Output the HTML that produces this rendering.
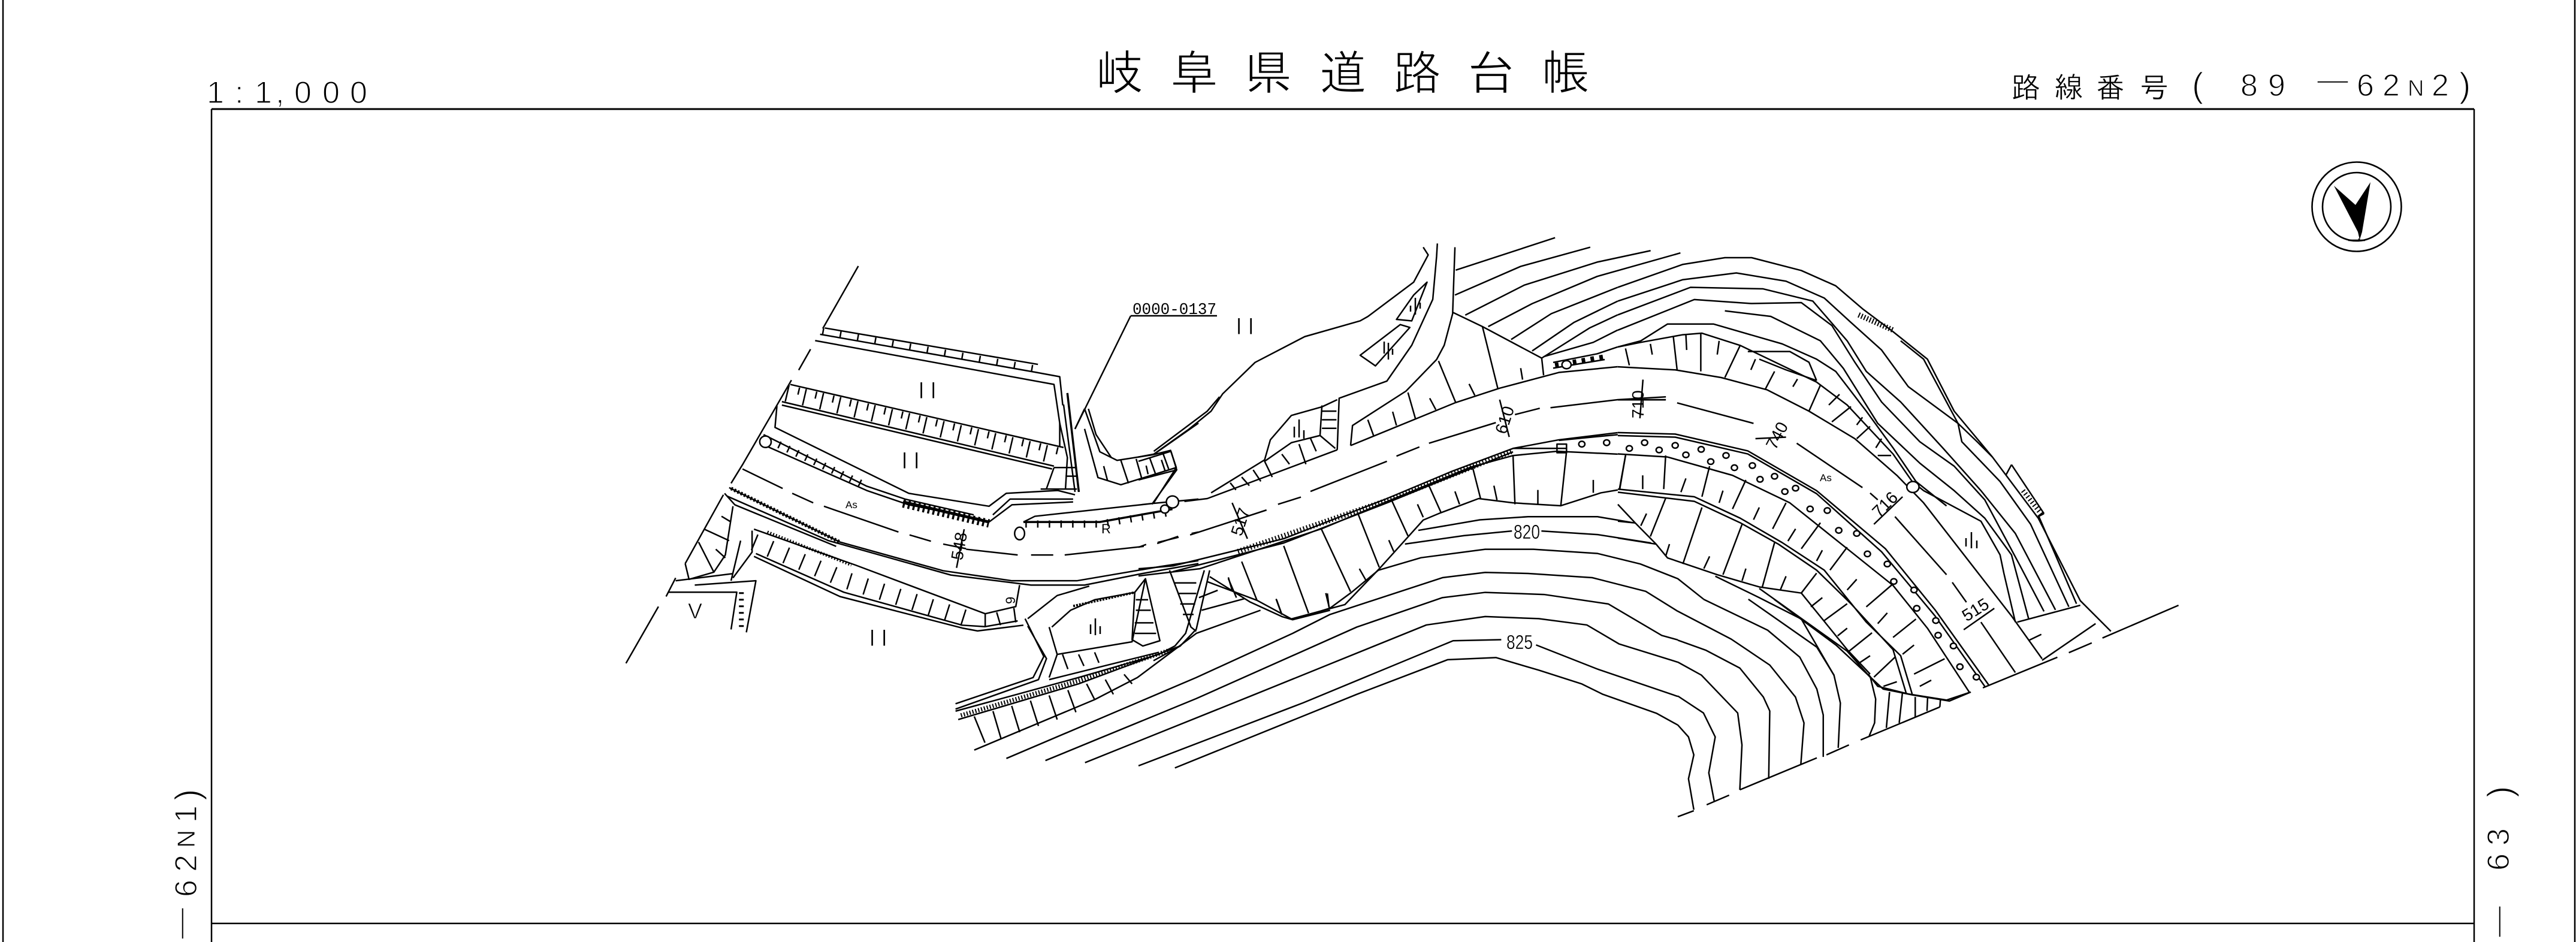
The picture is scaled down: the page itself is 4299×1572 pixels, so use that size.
<!DOCTYPE html>
<html><head><meta charset="utf-8"><title>岐阜県道路台帳</title>
<style>
html,body{margin:0;padding:0;background:#fff;width:4299px;height:1572px;overflow:hidden}
svg{display:block}
path{fill:none;stroke:#000;stroke-width:2.5;vector-effect:non-scaling-stroke;stroke-linejoin:round}
ellipse{fill:#fff;stroke:#000;stroke-width:2.5;vector-effect:non-scaling-stroke}
text{font-family:"Liberation Sans","IPAGothic","Noto Sans CJK JP",sans-serif;fill:#000;stroke:#fff}
.big{font-size:80px;stroke-width:1.4}
.mid{font-size:48px;stroke-width:.5}
.num{font-size:52px;stroke-width:1.4}
.sm{font-size:28px;stroke-width:0}
.xs{font-size:17px;stroke-width:0}
.ii{font-size:40px;letter-spacing:9px;stroke-width:1}
</style></head><body>
<svg width="4299" height="1572" viewBox="0 0 4299 1572" xmlns="http://www.w3.org/2000/svg">
<rect width="4299" height="1572" fill="#fff"/>

<!-- frame -->
<path d="M5 0V1572M4297 0V1572M353 182V1572M4129 182V1572M353 182H4129M353 1541H4129"/>
<path d="M353 182H4129" style="stroke-width:3"/>

<!-- title -->
<text class="big" x="1829 1953 2077 2201 2325 2449 2573" y="150">岐阜県道路台帳</text>
<text class="num" x="345 392 425 460 491 538 584" y="172">1:1,000</text>
<text class="mid" x="3357 3428 3498 3571" y="163">路線番号</text>
<text class="num" style="font-size:58px" x="3658" y="162">(</text>
<text class="num" x="3739 3785" y="160">89</text>
<text class="num" x="3867" y="150">—</text>
<text class="num" x="3933 3976" y="160">62</text>
<text class="num" style="font-size:38px;stroke-width:1" x="4018" y="160">N</text>
<text class="num" x="4058" y="160">2</text>
<text class="num" style="font-size:58px" x="4104" y="162">)</text>

<!-- rotated side labels -->
<g transform="translate(328,0) rotate(-90)">
<text class="num" x="-1567" y="-10">—</text>
<text class="num" x="-1497 -1455" y="0">62</text>
<text class="num" style="font-size:42px;stroke-width:1" x="-1415" y="-3">N</text>
<text class="num" x="-1373" y="0">1</text>
<text class="num" style="font-size:58px" x="-1336" y="5">)</text>
</g>
<g transform="translate(4187,0) rotate(-90)">
<text class="num" x="-1564" y="-2">—</text>
<text class="num" x="-1453 -1411" y="0">63</text>
<text class="num" style="font-size:58px" x="-1331" y="5">)</text>
</g>

<!-- compass -->
<circle cx="3933" cy="345" r="74.5" fill="none" stroke="#000" stroke-width="2.6"/>
<circle cx="3933" cy="345" r="57" fill="none" stroke="#000" stroke-width="2.6"/>
<polygon points="3895,310 3931,342 3956,304 3942,387 3938,400 3935,387" fill="#000"/>
<path d="M3937 398V401M3919 401H3947"/>

<!-- leader + id -->
<path d="M1887 527L1794 716M1887 527H2031"/>
<text x="1890" y="524" textLength="140" lengthAdjust="spacingAndGlyphs" style="font-size:27px;stroke-width:0;font-family:'Liberation Mono',monospace">0000-0137</text>

<!-- Z2 : left part -->
<g transform="translate(1000,400) scale(.6378,.4783)">
<path d="M678 92L585 310M553 382L522 455M503 490L375 785L345 850M325 890L225 1130M200 1180L175 1245M155 1280L70 1478"/>
<path d="M590 308L1148 435M578 330L1140 462L1205 478L1213 578M565 352L1190 505L1205 640V720"/>
<path d="M584 319L1144 450" style="stroke-width:10;stroke-dasharray:2.5 27"/>
<path d="M500 505L1215 725M478 565L1190 790M478 577L1185 800"/>
<path d="M490 535L1205 757" style="stroke-width:28;stroke-dasharray:2.5 27"/>
<path d="M495 520L1210 740" style="stroke-width:12;stroke-dasharray:2.5 27;stroke-dashoffset:13"/>
<path d="M1225 535L1255 880M1215 575L1245 880M1205 640L1225 760L1220 870M1190 795L1170 870M1190 795H1250M1220 825H1250M1155 870H1250"/>
<path d="M1225 535L1255 880" style="stroke-width:3.5"/>
<path d="M465 580L460 655L810 885L1020 930L1065 885L1200 875L1245 890M430 680L700 860L800 905L980 960M420 710L700 875L810 925L1000 975"/>
<path d="M1030 960L1075 905L1240 905M1020 985L1080 925L1240 915"/>
<path d="M470 715L700 860" style="stroke-width:12;stroke-dasharray:2.5 14"/>
<path d="M795 915L1020 985" style="stroke-width:5"/>
<path d="M795 920L1020 990" style="stroke-width:14;stroke-dasharray:3.5 5"/>
<path d="M375 800L480 868M505 885L560 918M588 930L783 1020M812 1030L868 1052M960 1080L1095 1100M1130 1100H1188M1218 1100L1425 1070M1460 1060L1515 1035M1550 1025L1568 1020"/>
<path d="M340 865L630 1055L900 1155L1080 1190L1250 1190L1470 1140L1568 1120M335 895L600 1050L920 1170L1130 1205L1270 1205L1420 1165L1568 1130M328 885L355 925L620 1070"/>
<path d="M345 868L630 1055" style="stroke-width:6;stroke-dasharray:3 3"/>
<path d="M405 1010L670 1135L1010 1305L1090 1280L1100 1205M405 1105L630 1245L950 1355L990 1365L1110 1345M410 1095L640 1230L950 1345L1010 1350L1095 1330"/>
<path d="M405 1055L650 1190L980 1330" style="stroke-width:28;stroke-dasharray:2.5 26"/>
<path d="M440 1020L660 1135" style="stroke-width:5;stroke-dasharray:2 3"/>
<path d="M1010 1305V1350M1040 1300L1050 1345M1085 1285L1090 1335"/>
<path d="M400 1015V1090L350 1180M370 1050L345 1190M350 930L330 1100L300 1160L235 1185L225 1130M320 965L345 985M275 1010L340 1050M260 1055L300 1160M305 1080L330 1110"/>
<path d="M200 1190L350 1165M250 1205L410 1190L385 1370M180 1230H360L345 1360"/>
<path d="M372 1230V1365" style="stroke-width:8;stroke-dasharray:3 8"/>
<path d="M1110 985L1140 965L1450 920L1568 905"/>
<path d="M1110 985H1310L1500 940" style="stroke-width:3.5"/>
<path d="M1115 992H1310L1500 950" style="stroke-width:12;stroke-dasharray:2.5 17"/>
<path d="M1270 660L1305 830L1365 855L1510 795L1495 735L1450 750L1355 770L1310 740L1270 590M1280 590L1300 680L1340 760M1450 750L1568 640M1510 795L1450 920M1270 590L1245 660"/>
<path d="M1320 790L1330 840M1365 770L1385 850M1405 765L1420 835M1440 760L1455 815M1475 745L1490 800"/>
<ellipse cx="1500" cy="915" rx="16" ry="21"/><ellipse cx="1480" cy="940" rx="11" ry="14"/>
<ellipse cx="1100" cy="1025" rx="13" ry="22"/>
<ellipse cx="435" cy="705" rx="15" ry="20"/>
<path d="M955 1010L935 1145M900 1062L960 1078"/>
</g>
<text class="ii" x="1532" y="665">II</text>
<text class="ii" x="1504" y="782">II</text>
<text class="ii" x="1450" y="1078">II</text>
<text class="ii" x="2062" y="558">II</text>
<text x="1148" y="1032" style="font-size:36px;stroke-width:.8">V</text>
<text class="xs" x="1411" y="848">As</text>
<text class="xs" x="3037" y="803">As</text>
<text class="xs" x="1838" y="890" style="font-size:22px">R</text>
<text class="xs" transform="translate(1694,1008) rotate(-90)" style="font-size:22px">9</text>

<!-- road station labels -->
<g>
<text class="sm" transform="translate(1606,936) rotate(-80)">548</text>
<text class="sm" transform="translate(2072,896) rotate(-72)">517</text>
<text class="sm" transform="translate(2513,726) rotate(-72)">610</text>
<text class="sm" transform="translate(2743,698) rotate(-90)">710</text>
<text class="sm" transform="translate(2963,752) rotate(-62)">740</text>
<text class="sm" transform="translate(3136,865) rotate(-45)">716</text>
<text class="sm" transform="translate(3282,1038) rotate(-32)">515</text>
</g>

<!-- Z3 : middle -->
<g transform="translate(1900,380) scale(.6378,.4783)">
<path d="M782 55L780 100L770 250L715 410L650 535L525 595L520 775M828 68L825 180L822 300L800 410L780 460L700 570L560 690L555 760"/>
<path d="M745 68L758 95L720 190L600 310L580 325L435 380L305 470L220 580L190 640L130 705L40 790L0 800M212 590L180 640L40 780"/>
<path d="M755 190L720 235L675 320L715 325ZM685 338L580 445L620 482L710 348Z"/>
<path d="M520 600L480 625L400 655L345 740L330 810L190 925"/>
<path d="M120 955L180 945L520 775M555 760L830 610L945 560L1100 505L1254 485"/>
<path d="M135 1072L335 985M365 965L425 940M450 920L650 815M675 797L735 765M760 752L935 680M985 652L1050 630M1078 628L1254 600L1380 590M0 1115L20 1105M50 1098L105 1080"/>
<path d="M0 1190L90 1180L380 1085L650 945L820 850L980 770L1100 740L1254 715M0 1215L160 1190L480 1050L660 950L870 835L980 795L1095 780L1254 790M90 1200L380 1100L650 960L830 862L980 782"/>
<path d="M260 1130L650 952L980 778" style="stroke-width:9;stroke-dasharray:2 3.5"/>
<path d="M1100 742L1254 722" style="stroke-width:2.5"/>
<path d="M980 770H1120"/>
<path d="M830 148L1090 35M828 235L1000 135L1182 68M855 305L1010 200L1200 120L1340 80M915 345L1030 265L1200 170L1418 88M975 390L1080 300L1254 208M1030 430L1140 330L1254 256M1055 455L1180 350L1254 304M1060 450L1190 400L1254 357"/>
<path d="M1085 470L1200 440L1254 416M822 295L900 345L1055 455L1060 515M900 345L940 560M1000 490L1005 530M785 465L830 610M865 545L880 585M705 575L725 668M762 595L778 635M665 642L675 690M600 670L615 725"/>
<path d="M1085 490L1220 460"/>
<path d="M1090 480L1220 450" style="stroke-width:8;stroke-dasharray:6 9"/>
<ellipse cx="1120" cy="478" rx="12" ry="14"/>
<path d="M480 620L475 725L400 750L330 815L350 870M480 640H518M480 670H518M480 700H518M475 725L515 770M375 790L395 825M420 755L438 825M450 735L465 780M240 890L255 915M270 870L290 900M300 845L320 885"/>
<path d="M85 780L100 845L0 880M0 815L85 780M100 845L35 965M20 830L25 860M60 810L70 850"/>
<path d="M180 1235L310 1300L400 1365L540 1315L630 1190L745 1020L790 995L850 965L890 945L980 960L1105 970L1210 925L1254 915"/>
<path d="M270 1165L310 1300M380 1110L445 1345M478 1050L555 1270M575 1000L630 1185M662 950L705 1075M760 900L792 995M875 840L895 945M980 795L985 965M1120 780L1105 970M1275 790L1258 915"/>
<path d="M235 1220L245 1265M360 1295L375 1350M490 1275L500 1330M578 1190L595 1230M655 1090L668 1130M730 965L745 1010M828 920L840 965M930 900L938 950M1045 915V965M1190 880V925"/>
<path d="M1095 755H1120V785H1095Z"/>
<ellipse cx="1160" cy="755" rx="8" ry="10"/><ellipse cx="1225" cy="750" rx="8" ry="10"/>
<path d="M1320 530L1312 665M1270 600H1380M945 600L970 730M245 960L285 1085"/>
</g>

<!-- Z4 : right -->
<g transform="translate(2700,380) scale(.6378,.5102)">
<path d="M0 195L170 120L280 98H350L480 140L570 190L640 265L720 340L810 430L880 600L980 750L1100 950L1210 1220L1290 1320"/>
<path d="M740 370L800 430L890 640L940 700L980 750M1100 940L1200 1230"/>
<path d="M630 285L720 335" style="stroke-width:9;stroke-dasharray:2 3"/>
<path d="M1030 775L1115 935M1015 810L1030 775M1100 945L1115 935"/>
<path d="M1060 860L1110 940" style="stroke-width:8;stroke-dasharray:2 4"/>
<path d="M0 240L170 170L310 148L440 175L540 230L610 310L690 400L760 520L890 640L900 700L1000 830L1080 970L1180 1240"/>
<path d="M0 285L190 195L380 200L510 240L600 370L650 470L740 570L850 720L950 860L1040 1000L1145 1250"/>
<path d="M0 335L200 235L350 248L480 245L560 320L620 440L690 570L790 700L880 780L960 890L1050 1100L1115 1255"/>
<path d="M0 390L60 370L130 315L250 315L430 380L520 430L570 470L650 600L720 720L780 830L860 910"/>
<path d="M280 272L400 290L530 370L590 460L680 640L790 770L880 860L960 950L1030 1070L1075 1280"/>
<path d="M340 405H450L500 440L520 500M370 430L440 465L520 500"/>
<path d="M0 390L60 375L170 350L220 345L320 385L520 505L600 580L720 740L770 830L800 860L950 960L1000 1070L1010 1130L1040 1290"/>
<path d="M0 455L150 465L270 490L390 530L500 600L620 690L730 810L800 900L1030 1270L1110 1410"/>
<path d="M20 395L30 450M85 380L90 415M145 355L155 465M178 350L180 400M217 345V470M265 370L260 415M320 385L280 490M360 430L348 465M410 470L385 530M470 495L458 520M530 515L500 600M580 545L552 580M610 585L560 635M640 620L625 645M660 650L625 690M690 690L675 720M715 745L680 745"/>
<ellipse cx="772" cy="848" rx="16" ry="18"/>
<path d="M0 563H125M155 573L355 640M468 705L640 850M660 868L680 890M725 945L860 1135M875 1160L912 1225M950 1290L1040 1455"/>
<path d="M955 1505L1150 1405M1180 1390L1240 1358M1268 1342L1467 1235M1045 1290L1210 1235M1250 1295L1110 1415M1075 1350L1108 1330"/>
<path d="M0 670L150 675L340 730L520 860L700 1050L830 1250L970 1495M0 680L150 685L340 740L520 870L690 1060L830 1270L960 1500"/>
<path d="M0 740L130 750L300 810L450 900L600 1050L720 1170L810 1310L920 1520L860 1545L760 1525L680 1500L655 1460"/>
<path d="M0 855L200 880L320 950L430 1030L540 1120L650 1290L740 1400L770 1525M0 865L200 895L320 965L420 1035L520 1120L610 1230L720 1380L755 1525"/>
<path d="M0 905L45 965L100 1035L130 1080L260 1135L370 1175L480 1195L600 1380L660 1460M0 960L40 965M0 1015L100 1035"/>
<path d="M125 745L120 855M20 745L5 855M240 780L220 880M335 825L300 920M440 900L405 985M530 965L480 1050M600 1045L555 1120M720 1165L650 1240M780 1280L720 1340M855 1410L775 1460M820 1480L790 1500"/>
<path d="M65 810V855M178 820L165 865M275 860L265 900M370 915L355 955M465 985L445 1025M535 1055L520 1090M625 1150L600 1185M705 1260L680 1295M775 1365L745 1395"/>
<path d="M125 885L85 1010M220 915L170 1100M325 970L275 1135M410 1030L378 1175M520 1130L480 1195M600 1230L540 1285M665 1325L605 1385M725 1405L670 1470"/>
<path d="M75 935L60 975M135 1035L125 1075M240 1075L225 1115M335 1115L325 1155M440 1140L425 1185M535 1210L505 1240M600 1310L575 1335M660 1400L630 1425M730 1485L695 1500"/>
<g>
<ellipse cx="30" cy="722" rx="8" ry="9"/><ellipse cx="70" cy="703" rx="8" ry="9"/><ellipse cx="108" cy="727" rx="8" ry="9"/><ellipse cx="150" cy="712" rx="8" ry="9"/><ellipse cx="178" cy="743" rx="8" ry="9"/><ellipse cx="218" cy="725" rx="8" ry="9"/><ellipse cx="243" cy="765" rx="8" ry="9"/><ellipse cx="283" cy="745" rx="8" ry="9"/><ellipse cx="305" cy="785" rx="8" ry="9"/><ellipse cx="352" cy="778" rx="8" ry="9"/><ellipse cx="372" cy="823" rx="8" ry="9"/><ellipse cx="410" cy="813" rx="8" ry="9"/><ellipse cx="437" cy="863" rx="8" ry="9"/><ellipse cx="465" cy="852" rx="8" ry="9"/><ellipse cx="503" cy="920" rx="8" ry="9"/><ellipse cx="548" cy="925" rx="8" ry="9"/><ellipse cx="578" cy="990" rx="8" ry="9"/><ellipse cx="625" cy="1000" rx="8" ry="9"/><ellipse cx="653" cy="1067" rx="8" ry="9"/><ellipse cx="705" cy="1100" rx="8" ry="9"/><ellipse cx="722" cy="1157" rx="8" ry="9"/><ellipse cx="775" cy="1185" rx="8" ry="9"/><ellipse cx="782" cy="1245" rx="8" ry="9"/><ellipse cx="832" cy="1285" rx="8" ry="9"/><ellipse cx="838" cy="1333" rx="8" ry="9"/><ellipse cx="878" cy="1368" rx="8" ry="9"/><ellipse cx="895" cy="1436" rx="8" ry="9"/><ellipse cx="938" cy="1470" rx="8" ry="9"/>
</g>
<path d="M255 1140L370 1210L480 1280L566 1465"/>
<path d="M370 1180L600 1385L660 1470"/>
<path d="M360 690L440 685M670 970L745 880M905 1315L985 1245"/>
</g>

<!-- grass symbols (real coords) -->
<path d="M2310 590V570M2317 600V572M2324 592V582M2160 730V712M2168 730V700M2176 732V718M2354 520V510M2362 525V497M2370 515V505"/>
<path d="M1820 1058V1042M1828 1060V1032M1836 1058V1045"/>
<path d="M3281 912V898M3290 915V888M3299 915V902"/>

<!-- Z5 : lower part -->
<g transform="translate(1550,850) scale(.8929,.3508)">
<path d="M915 100L1030 50L1120 35H1250L1320 65M890 165L1000 125L1090 103M1145 103L1250 120L1350 160"/>
<path d="M85 1145L310 905L390 800L500 590L620 480M680 525L750 470L790 395L840 290L920 230L1040 190H1130L1250 210L1330 260L1400 330L1448 427"/>
<path d="M145 1185L500 800L680 590L750 500L960 325L1040 300L1120 305L1240 325L1340 390L1400 485"/>
<path d="M218 1195L500 900L800 560L960 420L1040 395L1150 405L1270 450L1370 600L1400 621"/>
<path d="M292 1205L600 890L930 550L1040 510L1140 520L1230 550L1290 640L1400 727"/>
<path d="M392 1220L700 920L980 625L1070 620M1135 645L1250 760L1400 890"/>
<path d="M460 1230L800 880L970 715L1060 705L1140 765L1220 830L1260 880L1360 970L1400 1026"/>
<path d="M185 520L240 410L300 365M180 520L215 700L195 800L50 925M185 555L220 710L205 810L50 950"/>
<path d="M230 560L265 480L310 430L385 395L405 330L380 630L240 690L225 560M385 395L380 620L400 650L432 625L405 330M387 430H410M387 480H415M385 540H420M385 590H425"/>
<path d="M270 460L385 395" style="stroke-width:4;stroke-dasharray:3 2"/>
<path d="M450 290L490 560L500 580M515 290L480 590L460 650L430 690M525 290L500 570L470 650L420 720M460 350H500M465 400H500M470 450H498M475 500H495"/>
<path d="M525 320L600 440L660 510L680 525L750 480M540 385L505 420M590 425L510 480"/>
<path d="M650 430L660 500M560 330L575 420M745 400L748 465"/>
<path d="M240 690L225 800M225 810L430 680M50 960L280 800L430 690M55 1000L280 830L470 650"/>
<path d="M60 980L280 815L450 670" style="stroke-width:7;stroke-dasharray:2 3"/>
<path d="M250 690L260 760M280 690L290 745M310 680L318 730"/>
<path d="M85 985L105 1110M120 960L135 1090M155 935L170 1060M190 910L205 1030M225 885L240 1000M260 860L275 965M295 830L310 905M330 810L345 880M365 785L380 830"/>
</g>
<text class="sm" x="2526" y="899" textLength="44" lengthAdjust="spacingAndGlyphs" style="font-size:33px;stroke-width:.4">820</text>
<text class="sm" x="2514" y="1083" textLength="44" lengthAdjust="spacingAndGlyphs" style="font-size:33px;stroke-width:.4">825</text>

<!-- Z9 : lower right contour ends -->
<g transform="translate(2800,1000) scale(.357,.333)">
<path d="M0 1090L75 1060M135 1030L240 982M290 955L650 795M695 780L800 730M855 705L1225 540"/>
<path d="M0 630L50 690L75 780L50 900L75 1055"/>
<path d="M0 485L120 570L175 690L145 870L170 1010"/>
<path d="M0 315L110 380L280 570L300 730L290 955"/>
<path d="M0 205L130 255L290 345L400 490L430 560L425 900"/>
<path d="M0 60L250 200L430 330L550 490L590 620L575 830"/>
<path d="M120 0L420 155L570 290L650 450L680 580V790"/>
<path d="M330 0L650 240L730 380L760 520L750 745"/>
<path d="M450 0L740 230L900 390L925 500L920 620L895 685"/>
<path d="M990 465L975 645M1050 470L1035 620M1110 490V590M1168 490L1165 560M1228 500L1225 540"/>
<path d="M900 390L960 450L1100 480L1270 510L1370 465"/>
</g>
</svg>
</body></html>
